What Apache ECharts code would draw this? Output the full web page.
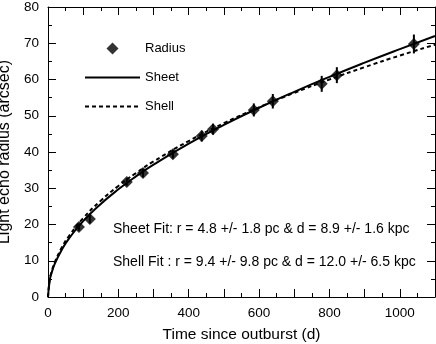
<!DOCTYPE html>
<html lang="en">
<head>
    <meta charset="UTF-8">
    <title>light echo radius</title>
    <script src="https://cdn.jsdelivr.net/npm/echarts@6/dist/echarts.min.js"></script>
    <style>
        body { margin: 0; background: #fff; }
    </style>
</head>
<body>
    <div id="main" style="width: 436px;height:344px;"></div>
    <script type="text/javascript">
    // measured radii (days since outburst, arcsec, error)
    let days = [88, 119, 224, 270, 355, 437, 469, 585, 639, 778, 821, 1040];
    let radius = [19.3, 21.5, 31.7, 34.2, 39.4, 44.4, 46.3, 51.6, 54.0, 58.8, 61.2, 69.8];
    let radiusErr = [1.0, 1.2, 1.0, 1.2, 1.2, 1.5, 1.5, 1.8, 2.0, 2.2, 2.2, 2.6];

    // fit curves
    let fitDays = [0, 5, 10, 20, 40, 60, 100, 150, 200, 250, 300, 400, 500, 600, 700, 800, 900, 1000, 1100];
    let sheetFit = [0, 4.66, 6.59, 9.33, 13.2, 16.18, 20.93, 25.67, 29.7, 33.27, 36.51, 42.32, 47.49, 52.21, 56.6, 60.73, 64.65, 68.39, 72.0];
    let shellFit = [0, 4.88, 6.9, 9.75, 13.78, 16.86, 21.74, 26.58, 30.64, 34.19, 37.39, 43.03, 47.94, 52.33, 56.33, 60.0, 63.41, 66.6, 69.6];

    let fitText = [
        'Sheet Fit: r = 4.8 +/- 1.8 pc & d = 8.9 +/- 1.6 kpc',
        'Shell Fit : r = 9.4 +/- 9.8 pc & d = 12.0 +/- 6.5 kpc'
    ];

    let font = '"Liberation Sans", Arial, sans-serif';
    let myChart = echarts.init(document.getElementById('main'));

    let pts = days.map((d, i) => [d, radius[i]]);
    let errs = days.map((d, i) => [d, radius[i] - radiusErr[i], radius[i] + radiusErr[i]]);
    let zip = (xs, ys) => xs.map((x, i) => [x, ys[i]]);

    let tick = { show: true, inside: true, length: 8, lineStyle: { color: '#000' } };
    let minor = { show: true, splitNumber: 2, length: 4, lineStyle: { color: '#000' } };
    let line = { show: true, onZero: false, lineStyle: { color: '#000', width: 1 } };

    function xAx(pos, labels) {
        return {
            type: 'value', position: pos, min: 0, max: 1100, interval: 100,
            axisLine: line, axisTick: tick, minorTick: minor, splitLine: { show: false },
            axisLabel: {
                show: labels, color: '#000', fontSize: 13.5, fontFamily: font, margin: 9,
                formatter: v => (v % 200 === 0 ? v : '')
            },
            name: labels ? 'Time since outburst (d)' : '', nameLocation: 'middle', nameGap: 30,
            nameTextStyle: { color: '#000', fontSize: 15.5, fontFamily: font }
        };
    }
    function yAx(pos, labels) {
        return {
            type: 'value', position: pos, min: 0, max: 80, interval: 10,
            axisLine: line, axisTick: tick, minorTick: minor, splitLine: { show: false },
            axisLabel: { show: labels, color: '#000', fontSize: 13.5, fontFamily: font, margin: 9 },
            name: labels ? 'Light echo radius (arcsec)' : '', nameLocation: 'middle', nameGap: 26,
            nameTextStyle: { color: '#000', fontSize: 16, fontFamily: font }
        };
    }

    let hideSym = { itemStyle: { opacity: 0 } };

    option = {
        animation: false,
        grid: { left: 48, right: 1, top: 7, bottom: 47, containLabel: false, outerBoundsMode: 'none' },
        xAxis: [xAx('bottom', true), xAx('top', false)],
        yAxis: [yAx('left', true), yAx('right', false)],
        legend: {
            data: [
                { name: 'Radius', icon: 'path://M0,-1L1,0L0,1L-1,0Z' },
                Object.assign({ name: 'Sheet' }, hideSym),
                Object.assign({ name: 'Shell' }, hideSym)
            ],
            orient: 'vertical', left: 84, top: 42, padding: 0,
            itemWidth: 55, itemHeight: 12, itemGap: 16, symbolKeepAspect: true,
            textStyle: { color: '#000', fontSize: 13, fontFamily: font }
        },
        graphic: fitText.map((t, i) => ({
            type: 'text', left: 113, top: 222 + i * 33,
            style: { text: t, fill: '#000', fontSize: 14, fontFamily: font }
        })),
        series: [{
            name: 'Sheet', type: 'line', data: zip(fitDays, sheetFit),
            smooth: true, symbol: 'none', color: '#000',
            lineStyle: { color: '#000', width: 2 }
        }, {
            name: 'Shell', type: 'line', data: zip(fitDays, shellFit),
            smooth: true, symbol: 'none', color: '#000',
            lineStyle: { color: '#000', width: 2, type: [4, 3] }
        }, {
            name: 'err', type: 'custom', data: errs,
            renderItem: function (params, api) {
                let lo = api.coord([api.value(0), api.value(1)]);
                let hi = api.coord([api.value(0), api.value(2)]);
                return {
                    type: 'line',
                    shape: { x1: lo[0], y1: lo[1], x2: hi[0], y2: hi[1] },
                    style: { stroke: '#000', lineWidth: 2 }
                };
            },
            z: 3
        }, {
            name: 'Radius', type: 'scatter', data: pts,
            symbol: 'diamond', symbolSize: 12, color: '#000', z: 4
        }]
    };

    myChart.setOption(option);
    </script>
</body>
</html>
